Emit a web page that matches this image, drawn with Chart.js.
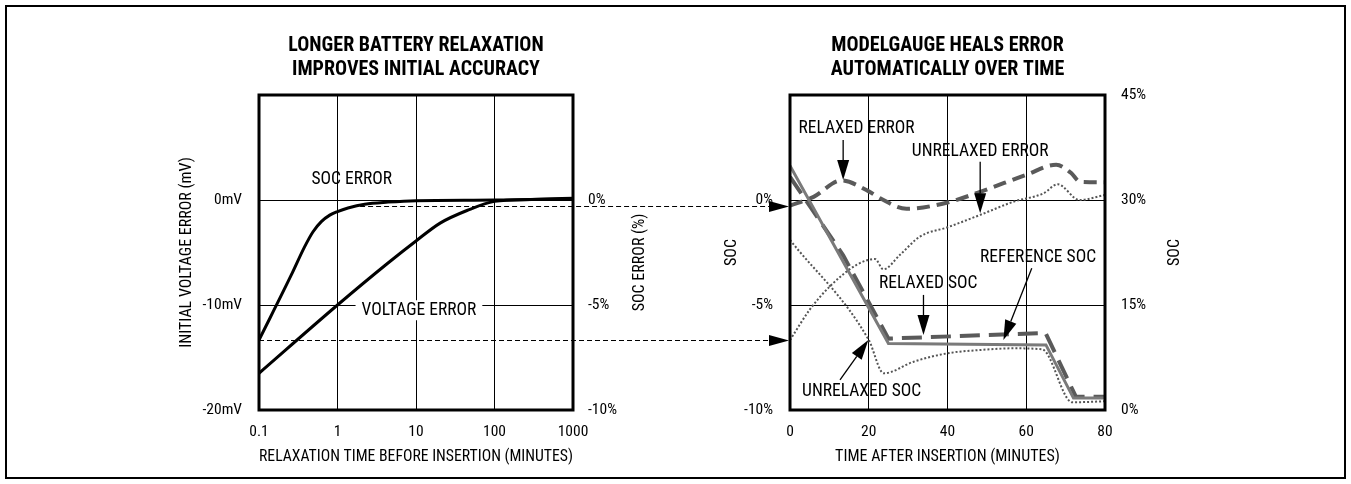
<!DOCTYPE html>
<html><head><meta charset="utf-8">
<script src="https://cdn.jsdelivr.net/npm/chart.js@4.4.0/dist/chart.umd.min.js"></script>
<style>
html,body{margin:0;padding:0;background:#fff;}
#wrap{position:relative;width:1351px;height:484px;overflow:hidden;background:#fff;}
#frame{position:absolute;left:5px;top:5px;width:1337px;height:470px;border:2px solid #000;}
canvas{position:absolute;left:0;top:0;}
</style></head><body>
<div id="wrap"><div id="frame"></div>
<canvas id="c1" width="1351" height="484"></canvas>
<canvas id="c2" width="1351" height="484"></canvas></div>
<script>
// ---------- LEFT CHART DATA ----------
const relaxTicks = [0.1, 1, 10, 100, 1000];
const relaxTickLabels = ['0.1', '1', '10', '100', '1000'];
const mvTicks = [-20, -10, 0, 10];
const mvTickLabels = ['-20mV', '-10mV', '0mV', ''];
const socErrTicks = [-10, -5, 0, 5];
const socErrTickLabels = ['-10%', '-5%', '0%', ''];

const socErrTime = [0.1, 0.258, 0.382, 0.488, 0.622, 0.797, 1, 1.36, 2.22, 4.4, 10, 100, 1000];
const socErr     = [-6.67, -3.57, -2.22, -1.51, -1.03, -0.72, -0.55, -0.38, -0.2, -0.1, -0.03, 0.0, 0.08];

const voltErrTime = [0.1, 1, 4.4, 10, 20.3, 44.6, 100, 300, 1000];
const voltErr     = [-16.5, -10.0, -6.0, -3.9, -2.2, -1.0, -0.13, 0.05, 0.13];

// ---------- RIGHT CHART DATA ----------
const insTicks = [0, 20, 40, 60, 80];
const insTickLabels = ['0', '20', '40', '60', '80'];
const errTicks = [-10, -5, 0, 5];
const errTickLabels = ['-10%', '-5%', '0%', ''];
const socTicks = [0, 15, 30, 45];
const socTickLabels = ['0%', '15%', '30%', '45%'];

const relaxedErrTime = [0, 6, 13, 20, 22.9, 29.6, 40, 48.3, 60, 67.6, 71.3, 73.7, 80];
const relaxedErr     = [-0.27, 0.15, 0.93, 0.41, 0.08, -0.42, -0.12, 0.39, 1.2, 1.68, 1.3, 0.87, 0.85];

const unrelaxedErrTime = [0, 5.1, 10.2, 17, 21.6, 23.7, 28, 33, 40, 48.3, 56.8, 64.4, 68, 73.5, 80];
const unrelaxedErr     = [-6.67, -5.2, -4.1, -3.08, -2.81, -3.3, -2.6, -1.74, -1.3, -0.71, -0.08, 0.32, 0.75, 0.0, 0.24];

const refSocTime = [0, 25, 65, 72, 80];
const refSoc     = [34.9, 9.5, 9.3, 1.7, 1.7];

const relaxedSocTime = [0, 13.5, 25, 64.9, 72.6, 80];
const relaxedSoc     = [33.3, 22.1, 10.2, 11.0, 1.9, 1.9];

const unrelaxedSocTime = [0, 20, 23.8, 31.4, 40, 48.3, 56.8, 64, 71.7, 80];
const unrelaxedSoc     = [24.3, 10.0, 5.24, 6.9, 8.1, 8.57, 8.81, 8.67, 1.1, 1.25];

// ---------- STYLE ----------
const FONT = "'Roboto Condensed', 'Liberation Sans Narrow', Roboto, sans-serif";
Chart.defaults.font.family = FONT;
Chart.defaults.color = '#000';

const toXY = (xs, ys) => xs.map((x, i) => ({x: x, y: ys[i]}));
const labelFrom = (vals, labs) => (v) => { const i = vals.indexOf(v); return i >= 0 ? labs[i] : ''; };

function arrow(ctx, x1, y1, x2, y2, head, half) {
  const dx = x2 - x1, dy = y2 - y1, L = Math.hypot(dx, dy);
  const ux = dx / L, uy = dy / L;
  const bx = x2 - ux * head, by = y2 - uy * head;
  ctx.beginPath(); ctx.moveTo(x1, y1); ctx.lineTo(bx, by); ctx.stroke();
  ctx.beginPath(); ctx.moveTo(x2, y2);
  ctx.lineTo(bx - uy * half, by + ux * half);
  ctx.lineTo(bx + uy * half, by - ux * half);
  ctx.closePath(); ctx.fill();
}

function decorPlugin(notes, arrows, rightTitle) {
  return {
    id: 'decor',
    afterDatasetsDraw(chart) {
      const ctx = chart.ctx, a = chart.chartArea, sx = chart.scales.x;
      ctx.save();
      ctx.font = "17.5px " + FONT;
      ctx.textAlign = 'center'; ctx.textBaseline = 'middle';
      notes.forEach(n => {
        const sy = chart.scales[n.axis];
        const px = sx.getPixelForValue(n.x), py = sy.getPixelForValue(n.y);
        if (n.bg) {
          const w = ctx.measureText(n.text).width;
          ctx.fillStyle = '#fff';
          ctx.fillRect(px - w / 2 - 6, py - 10, w + 12, 20);
        }
        ctx.fillStyle = '#000';
        ctx.fillText(n.text, px, py);
      });
      ctx.strokeStyle = '#000'; ctx.fillStyle = '#000'; ctx.lineWidth = 1.3;
      arrows.forEach(r => {
        const sy = chart.scales[r.axis];
        arrow(ctx, sx.getPixelForValue(r.from[0]), sy.getPixelForValue(r.from[1]),
                   sx.getPixelForValue(r.to[0]), sy.getPixelForValue(r.to[1]), 20, 6);
      });
      ctx.lineWidth = 3; ctx.strokeStyle = '#000';
      ctx.strokeRect(a.left, a.top, a.right - a.left, a.bottom - a.top);
      ctx.font = "16px " + FONT;
      ctx.translate(rightTitle.x, (a.top + a.bottom) / 2 + rightTitle.dy);
      ctx.rotate(-Math.PI / 2);
      ctx.fillText(rightTitle.text, 0, 0);
      ctx.restore();
    }
  };
}

// ---------- LEFT CHART ----------
const leftNotes = [
  {text: 'SOC ERROR', x: 1.52, y: 1.9, axis: 'y'},
  {text: 'VOLTAGE ERROR', x: 10.9, y: -10.5, axis: 'y', bg: true}
];

const chart1 = new Chart(document.getElementById('c1'), {
  type: 'line',
  data: {
    datasets: [
      {label: 'SOC ERROR', data: toXY(socErrTime, socErr), yAxisID: 'y2',
       borderColor: '#000', borderWidth: 3, pointRadius: 0, cubicInterpolationMode: 'monotone', fill: false},
      {label: 'VOLTAGE ERROR', data: toXY(voltErrTime, voltErr), yAxisID: 'y',
       borderColor: '#000', borderWidth: 3, pointRadius: 0, cubicInterpolationMode: 'monotone', fill: false}
    ]
  },
  options: {
    responsive: false, animation: false, devicePixelRatio: 1,
    layout: {padding: {left: 177, right: 696, top: 22, bottom: 17}},
    plugins: {
      legend: {display: false}, tooltip: {enabled: false},
      title: {display: true, text: ['LONGER BATTERY RELAXATION', 'IMPROVES INITIAL ACCURACY'],
              font: {size: 20, weight: 'bold', lineHeight: '24px'}, padding: {top: 12, bottom: 13}, color: '#000'}
    },
    scales: {
      x: {type: 'logarithmic', position: 'bottom', min: 0.1, max: 1000,
          afterBuildTicks: s => { s.ticks = relaxTicks.map(v => ({value: v})); },
          afterFit: s => { s.height = 57; },
          grid: {color: '#000', lineWidth: 1, drawTicks: false},
          border: {display: false},
          ticks: {padding: 13, font: {size: 15.5}, maxRotation: 0, autoSkip: false,
                  callback: labelFrom(relaxTicks, relaxTickLabels)},
          title: {display: true, text: 'RELAXATION TIME BEFORE INSERTION (MINUTES)', font: {size: 16}, padding: 0}},
      y: {type: 'linear', position: 'left', min: -20, max: 10,
          afterBuildTicks: s => { s.ticks = mvTicks.map(v => ({value: v})); },
          afterFit: s => { s.width = 82; },
          grid: {color: '#000', lineWidth: 1, drawTicks: false},
          border: {display: false},
          ticks: {padding: 17, font: {size: 15.5}, callback: labelFrom(mvTicks, mvTickLabels)},
          title: {display: true, text: 'INITIAL VOLTAGE ERROR (mV)', font: {size: 16}, padding: 0}},
      y2: {type: 'linear', position: 'right', min: -10, max: 5,
          afterBuildTicks: s => { s.ticks = socErrTicks.map(v => ({value: v})); },
          afterFit: s => { s.width = 82; },
          grid: {display: false, drawTicks: false},
          border: {display: false},
          ticks: {padding: 15, font: {size: 15.5}, callback: labelFrom(socErrTicks, socErrTickLabels)}}
    }
  },
  plugins: [decorPlugin(leftNotes, [], {text: 'SOC ERROR (%)', x: 640, dy: 10})]
});

// ---------- RIGHT CHART ----------
const rightNotes = [
  {text: 'RELAXED ERROR', x: 16.9, y: 3.41, axis: 'y'},
  {text: 'UNRELAXED ERROR', x: 48.3, y: 2.3, axis: 'y'},
  {text: 'REFERENCE SOC', x: 63, y: -2.76, axis: 'y'},
  {text: 'RELAXED SOC', x: 35.1, y: -3.97, axis: 'y'},
  {text: 'UNRELAXED SOC', x: 18.2, y: -9.13, axis: 'y'}
];
const rightArrows = [
  {from: [13.5, 2.86], to: [13.5, 0.95], axis: 'y'},
  {from: [48.3, 1.82], to: [48.3, -0.63], axis: 'y'},
  {from: [61.4, -3.25], to: [54.2, -6.67], axis: 'y'},
  {from: [33.9, -4.52], to: [33.9, -6.43], axis: 'y'},
  {from: [12.7, -8.57], to: [19.9, -6.67], axis: 'y'}
];
const connectorRelaxTime = [1.94, 0.1];

const connectorPlugin = {
  id: 'connectors',
  afterDraw(chart) {
    const ctx = chart.ctx;
    const startVals = [relaxedErr[0], unrelaxedErr[0]];
    ctx.save();
    ctx.strokeStyle = '#000'; ctx.fillStyle = '#000'; ctx.lineWidth = 1;
    startVals.forEach((v, i) => {
      const y = Math.round(chart.scales.y.getPixelForValue(v)) + 0.5;
      const x0 = chart1.scales.x.getPixelForValue(connectorRelaxTime[i]);
      const tip = chart.chartArea.left - 1;
      ctx.setLineDash([5, 3]);
      ctx.beginPath(); ctx.moveTo(x0, y); ctx.lineTo(tip - 20, y); ctx.stroke();
      ctx.setLineDash([]);
      ctx.beginPath(); ctx.moveTo(tip, y); ctx.lineTo(tip - 20, y - 5.5); ctx.lineTo(tip - 20, y + 5.5);
      ctx.closePath(); ctx.fill();
    });
    ctx.restore();
  }
};

const chart2 = new Chart(document.getElementById('c2'), {
  type: 'line',
  data: {
    datasets: [
      {label: 'REFERENCE SOC', data: toXY(refSocTime, refSoc), yAxisID: 'y2',
       borderColor: '#7a7a7a', borderWidth: 3, pointRadius: 0, tension: 0, fill: false},
      {label: 'RELAXED SOC', data: toXY(relaxedSocTime, relaxedSoc), yAxisID: 'y2',
       borderColor: '#5a5a5a', borderWidth: 4, borderDash: [20, 9], pointRadius: 0, tension: 0, fill: false},
      {label: 'UNRELAXED SOC', data: toXY(unrelaxedSocTime, unrelaxedSoc), yAxisID: 'y2',
       borderColor: '#555', borderWidth: 2, borderDash: [2, 2], pointRadius: 0, cubicInterpolationMode: 'monotone', fill: false},
      {label: 'RELAXED ERROR', data: toXY(relaxedErrTime, relaxedErr), yAxisID: 'y',
       borderColor: '#5a5a5a', borderWidth: 4, borderDash: [13, 7], pointRadius: 0, cubicInterpolationMode: 'monotone', fill: false},
      {label: 'UNRELAXED ERROR', data: toXY(unrelaxedErrTime, unrelaxedErr), yAxisID: 'y',
       borderColor: '#555', borderWidth: 2, borderDash: [2, 2], pointRadius: 0, cubicInterpolationMode: 'monotone', fill: false}
    ]
  },
  options: {
    responsive: false, animation: false, devicePixelRatio: 1,
    layout: {padding: {left: 722, right: 178, top: 22, bottom: 17}},
    plugins: {
      legend: {display: false}, tooltip: {enabled: false},
      title: {display: true, text: ['MODELGAUGE HEALS ERROR', 'AUTOMATICALLY OVER TIME'],
              font: {size: 20, weight: 'bold', lineHeight: '24px'}, padding: {top: 12, bottom: 13}, color: '#000'}
    },
    scales: {
      x: {type: 'linear', position: 'bottom', min: 0, max: 80,
          afterBuildTicks: s => { s.ticks = insTicks.map(v => ({value: v})); },
          afterFit: s => { s.height = 57; },
          grid: {color: '#000', lineWidth: 1, drawTicks: false},
          border: {display: false},
          ticks: {padding: 13, font: {size: 15.5}, maxRotation: 0, autoSkip: false,
                  callback: labelFrom(insTicks, insTickLabels)},
          title: {display: true, text: 'TIME AFTER INSERTION (MINUTES)', font: {size: 16}, padding: 0}},
      y: {type: 'linear', position: 'left', min: -10, max: 5,
          afterBuildTicks: s => { s.ticks = errTicks.map(v => ({value: v})); },
          afterFit: s => { s.width = 68; },
          grid: {color: '#000', lineWidth: 1, drawTicks: false},
          border: {display: false},
          ticks: {padding: 17, font: {size: 15.5}, callback: labelFrom(errTicks, errTickLabels)},
          title: {display: true, text: 'SOC', font: {size: 16}, padding: 0}},
      y2: {type: 'linear', position: 'right', min: 0, max: 45,
          afterBuildTicks: s => { s.ticks = socTicks.map(v => ({value: v})); },
          afterFit: s => { s.width = 68; },
          grid: {display: false, drawTicks: false},
          border: {display: false},
          ticks: {padding: 16, font: {size: 15.5}, callback: labelFrom(socTicks, socTickLabels)}}
    }
  },
  plugins: [decorPlugin(rightNotes, rightArrows, {text: 'SOC', x: 1175, dy: 0}), connectorPlugin]
});
</script>
</body></html>
